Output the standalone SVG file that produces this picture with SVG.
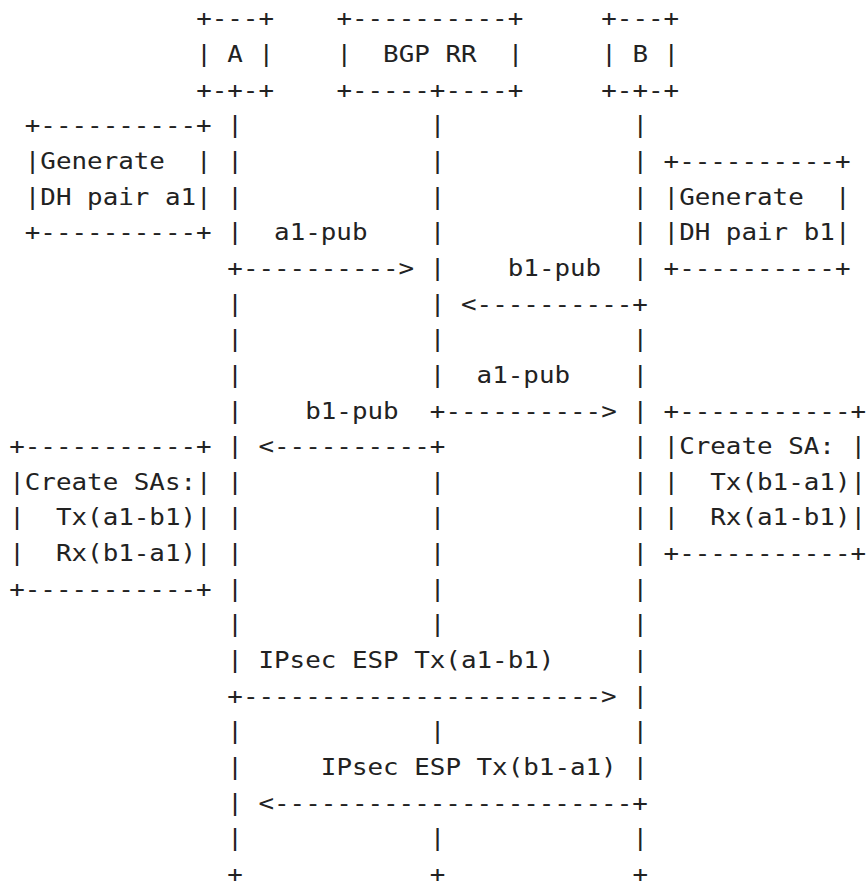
<svg xmlns="http://www.w3.org/2000/svg" width="868" height="881" viewBox="0 0 868 881" xml:space="preserve">
<style>
text{font-family:"DejaVu Sans Mono","Liberation Mono",monospace;font-size:23px;fill:#222;white-space:pre}
</style>
<rect width="868" height="881" fill="#fff"/>
<g transform="translate(9.2 0) scale(1.1252 1)">
<g id="node-A">
<text x="166.16" y="26.5">+---+</text>
<text x="166.16" y="62.14">| A |</text>
<text x="166.16" y="97.78">+-+-+</text>
</g>
<g id="node-BGP-RR">
<text x="290.79" y="26.5">+----------+</text>
<text x="290.79" y="62.14">|  BGP RR  |</text>
<text x="290.79" y="97.78">+-----+----+</text>
</g>
<g id="node-B">
<text x="526.19" y="26.5">+---+</text>
<text x="526.19" y="62.14">| B |</text>
<text x="526.19" y="97.78">+-+-+</text>
</g>
<g id="node-gen-a1">
<text x="13.85" y="133.42">+----------+</text>
<text x="13.85" y="169.06">|Generate  |</text>
<text x="13.85" y="204.7">|DH pair a1|</text>
<text x="13.85" y="240.34">+----------+</text>
</g>
<g id="node-gen-b1">
<text x="581.57" y="169.06">+----------+</text>
<text x="581.57" y="204.7">|Generate  |</text>
<text x="581.57" y="240.34">|DH pair b1|</text>
<text x="581.57" y="275.98">+----------+</text>
</g>
<g id="node-create-a">
<text x="0" y="454.18">+-----------+</text>
<text x="0" y="489.82">|Create SAs:|</text>
<text x="0" y="525.46">|  Tx(a1-b1)|</text>
<text x="0" y="561.1">|  Rx(b1-a1)|</text>
<text x="0" y="596.74">+-----------+</text>
</g>
<g id="node-create-b">
<text x="581.57" y="418.54">+-----------+</text>
<text x="581.57" y="454.18">|Create SA: |</text>
<text x="581.57" y="489.82">|  Tx(b1-a1)|</text>
<text x="581.57" y="525.46">|  Rx(a1-b1)|</text>
<text x="581.57" y="561.1">+-----------+</text>
</g>
<g id="connectors">
<g id="lifeline-A">
<text x="193.86 193.86 193.86 193.86" y="133.42 169.06 204.7 240.34">||||</text>
<text x="193.86 193.86 193.86 193.86 193.86 193.86 193.86 193.86 193.86 193.86 193.86" y="311.62 347.26 382.9 418.54 454.18 489.82 525.46 561.1 596.74 632.38 668.02">|||||||||||</text>
<text x="193.86 193.86 193.86 193.86 193.86" y="739.3 774.94 810.58 846.22 881.86">||||+</text>
</g>
<g id="lifeline-RR">
<text x="373.87 373.87 373.87 373.87 373.87 373.87 373.87 373.87" y="133.42 169.06 204.7 240.34 275.98 311.62 347.26 382.9">||||||||</text>
<text x="373.87 373.87 373.87 373.87 373.87" y="489.82 525.46 561.1 596.74 632.38">|||||</text>
<text x="373.87" y="739.3">|</text>
<text x="373.87 373.87" y="846.22 881.86">|+</text>
</g>
<g id="lifeline-B">
<text x="553.88 553.88 553.88 553.88 553.88" y="133.42 169.06 204.7 240.34 275.98">|||||</text>
<text x="553.88 553.88 553.88 553.88 553.88 553.88 553.88 553.88 553.88 553.88 553.88 553.88 553.88" y="347.26 382.9 418.54 454.18 489.82 525.46 561.1 596.74 632.38 668.02 703.66 739.3 774.94">|||||||||||||</text>
<text x="553.88 553.88" y="846.22 881.86">|+</text>
</g>
<g id="msg-a1-pub-1">
<text x="235.40" y="240.34">a1-pub</text>
<text x="193.86" y="275.98">+----------&gt;</text>
</g>
<g id="msg-b1-pub-1">
<text x="443.10" y="275.98">b1-pub</text>
<text x="401.56" y="311.62">&lt;----------+</text>
</g>
<g id="msg-a1-pub-2">
<text x="415.41" y="382.9">a1-pub</text>
<text x="373.87" y="418.54">+----------&gt;</text>
</g>
<g id="msg-b1-pub-2">
<text x="263.09" y="418.54">b1-pub</text>
<text x="221.55" y="454.18">&lt;----------+</text>
</g>
<g id="msg-esp-a1-b1">
<text x="221.55" y="668.02">IPsec ESP Tx(a1-b1)</text>
<text x="193.86" y="703.66">+-----------------------&gt;</text>
</g>
<g id="msg-esp-b1-a1">
<text x="276.94" y="774.94">IPsec ESP Tx(b1-a1)</text>
<text x="221.55" y="810.58">&lt;-----------------------+</text>
</g>
</g>
</g>
</svg>
